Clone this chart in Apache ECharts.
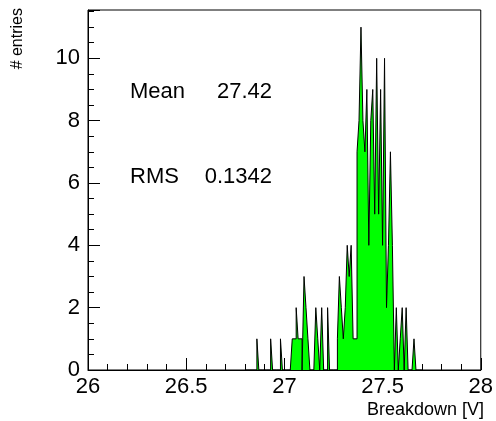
<!DOCTYPE html>
<html>
<head>
<meta charset="utf-8">
<script src="https://cdn.jsdelivr.net/npm/echarts@6/dist/echarts.min.js"></script>
<style>
  html, body { margin: 0; padding: 0; background: #fff; }
  #chart { width: 496px; height: 421px; }
</style>
</head>
<body>
<div id="chart"></div>
<script>
// histogram: bins of 0.01 V, first bin starts at 26.80 V
var binStart = 26.80;
var binWidth = 0.01;
var counts = [
  0, 0, 0, 0, 0, 0, 1, 0, 0, 0,
  0, 0, 0, 1, 0, 0, 0, 0, 1, 0,
  0, 0, 0, 0, 1, 1, 2, 1, 1, 0,
  3, 2, 1, 0, 0, 0, 2, 1, 0, 2,
  0, 0, 2, 0, 0, 0, 0, 1, 3, 2,
  1, 2, 4, 3, 4, 1, 1, 7, 8, 11,
  8, 7, 9, 4, 8, 9, 5, 10, 5, 9,
  4, 10, 2, 4, 7, 4, 0, 2, 0, 1,
  2, 0, 2, 0, 0, 0, 1, 0, 0, 0
];
var xTicks = [26, 26.5, 27, 27.5, 28];
var yTicks = [0, 2, 4, 6, 8, 10];
var statNames = ['Mean', 'RMS'];
var statValues = ['27.42', '0.1342'];

// bin edges -> step points
var points = [];
for (var k = 0; k < counts.length; k++) {
  points.push([+(binStart + k * binWidth).toFixed(3), counts[k]]);
}
points.push([+(binStart + counts.length * binWidth).toFixed(3), 0]);

var FONT = '"Liberation Sans", Arial, sans-serif';
var chart = echarts.init(document.getElementById('chart'));

chart.setOption({
  animation: false,
  backgroundColor: '#fff',
  grid: {
    left: 88, right: 8, top: 10, bottom: 51,
    show: true, borderColor: '#000', borderWidth: 1
  },
  xAxis: {
    type: 'value',
    min: xTicks[0], max: xTicks[xTicks.length - 1],
    interval: 0.5,
    axisLine: { lineStyle: { color: '#000', width: 1 } },
    axisTick: { inside: true, length: 12, lineStyle: { color: '#000' } },
    minorTick: { show: true, splitNumber: 5, length: 6, lineStyle: { color: '#000' } },
    splitLine: { show: false },
    axisLabel: { color: '#000', fontSize: 22, fontFamily: FONT, margin: 6 }
  },
  yAxis: {
    type: 'value',
    min: 0, max: 11.55,
    interval: 2,
    axisLine: { show: true, lineStyle: { color: '#000', width: 1 } },
    axisTick: { inside: true, length: 12, lineStyle: { color: '#000' } },
    minorTick: { show: true, splitNumber: 4, length: 6, lineStyle: { color: '#000' } },
    splitLine: { show: false },
    axisLabel: {
      color: '#000', fontSize: 22, fontFamily: FONT, margin: 8,
      showMaxLabel: false,
      formatter: function (v) { return yTicks.indexOf(v) >= 0 ? String(v) : ''; }
    }
  },
  series: [{
    type: 'line',
    step: 'end',
    data: points,
    symbol: 'none',
    lineStyle: { color: '#000', width: 1 },
    areaStyle: { color: '#00ff00', opacity: 1 },
    z: 1
  }],
  graphic: [
    { type: 'text', x: 130, y: 92, style: { text: statNames[0], font: '22px ' + FONT, fill: '#000', verticalAlign: 'middle' } },
    { type: 'text', x: 272, y: 92, style: { text: statValues[0], font: '22px ' + FONT, fill: '#000', align: 'right', verticalAlign: 'middle' } },
    { type: 'text', x: 130, y: 177, style: { text: statNames[1], font: '22px ' + FONT, fill: '#000', verticalAlign: 'middle' } },
    { type: 'text', x: 272, y: 177, style: { text: statValues[1], font: '22px ' + FONT, fill: '#000', align: 'right', verticalAlign: 'middle' } },
    { type: 'text', x: 484, y: 410, style: { text: 'Breakdown [V]', font: '18px ' + FONT, fill: '#000', align: 'right', verticalAlign: 'middle' } },
    { type: 'text', x: 18, y: 8, rotation: Math.PI / 2, style: { text: '# entries', font: '16px ' + FONT, fill: '#000', align: 'right', verticalAlign: 'middle' } }
  ]
});
</script>
</body>
</html>
